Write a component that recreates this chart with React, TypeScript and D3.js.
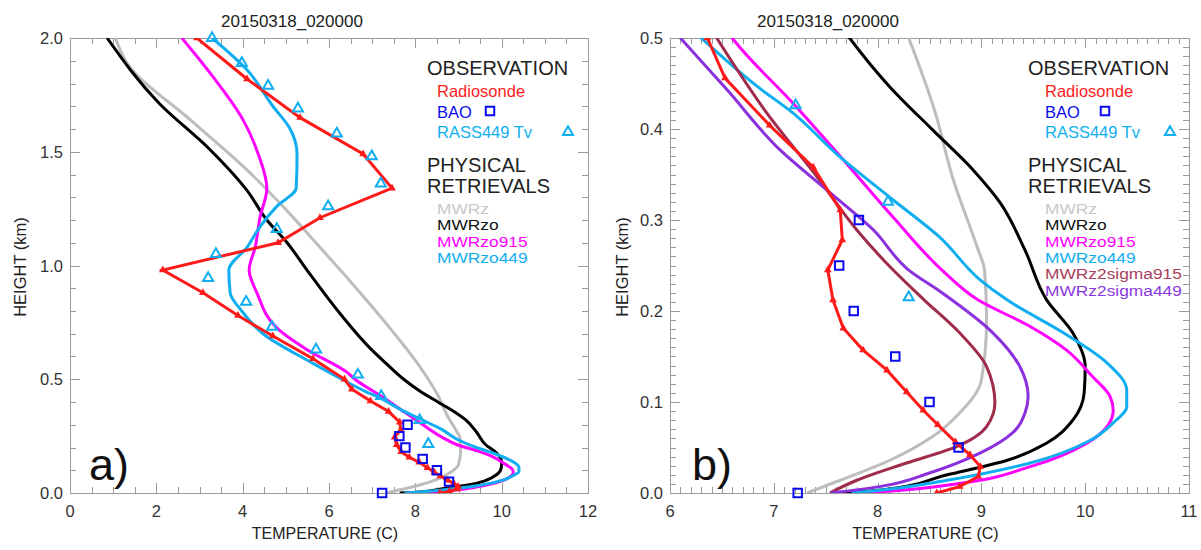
import React, { useRef, useEffect } from 'react';
import * as d3 from 'd3';

const W = 1201, H = 550;
const plotTitle = '20150318_020000';
const xTitle = 'TEMPERATURE (C)';
const yTitle = 'HEIGHT (km)';

// observations
const sondeHeight = [2.0, 1.82, 1.65, 1.49, 1.34, 1.21, 1.10, 0.98, 0.88, 0.78, 0.69, 0.59, 0.50, 0.456, 0.404, 0.358, 0.311, 0.278, 0.245, 0.212, 0.181, 0.157, 0.135, 0.111, 0.091, 0.075, 0.056, 0.042, 0.029, 0.018, 0.007, 0.0];
const sondeTemp = [2.94, 4.10, 5.33, 6.79, 7.46, 5.79, 4.82, 2.15, 3.08, 3.89, 4.70, 5.63, 6.36, 6.53, 6.96, 7.38, 7.64, 7.66, 7.52, 7.57, 7.67, 7.86, 8.09, 8.28, 8.44, 8.58, 8.75, 8.89, 8.99, 8.97, 8.79, 8.57];

const baoHeight = [0.30, 0.25, 0.20, 0.15, 0.10, 0.05, 0.0];
const baoTemp = [7.82, 7.63, 7.77, 8.17, 8.50, 8.78, 7.23];

const rassHeight = [2.0, 1.89, 1.79, 1.69, 1.58, 1.48, 1.36, 1.26, 1.16, 1.05, 0.945, 0.84, 0.73, 0.63, 0.52, 0.426, 0.32, 0.215];
const rassTemp = [3.29, 3.98, 4.59, 5.28, 6.18, 6.99, 7.20, 5.98, 4.79, 3.38, 3.20, 4.08, 4.68, 5.70, 6.67, 7.21, 8.10, 8.30];

// physical retrievals
const mwrzHeight = [2.0, 1.89, 1.63, 1.42, 1.24, 1.08, 0.94, 0.83, 0.716, 0.57, 0.50, 0.42, 0.344, 0.27, 0.245, 0.19, 0.124, 0.088, 0.062, 0.036, 0.014, 0.0];
const mwrzTemp = [1.05, 1.32, 2.85, 4.10, 5.03, 5.79, 6.45, 6.95, 7.45, 8.05, 8.30, 8.55, 8.73, 8.96, 9.03, 9.05, 9.00, 8.79, 8.53, 8.12, 7.64, 7.32];

const mwrzoHeight = [2.0, 1.71, 1.51, 1.33, 1.20, 1.10, 0.98, 0.79, 0.637, 0.57, 0.50, 0.446, 0.399, 0.355, 0.319, 0.267, 0.212, 0.176, 0.139, 0.110, 0.080, 0.055, 0.036, 0.020, 0.003, 0.0];
const mwrzoTemp = [0.86, 2.08, 3.24, 4.10, 4.56, 5.03, 5.49, 6.25, 6.95, 7.32, 7.73, 8.12, 8.53, 8.92, 9.18, 9.42, 9.63, 9.88, 10.0, 9.99, 9.88, 9.63, 9.25, 8.67, 8.02, 7.64];

const mwrzo915Height = [2.0, 1.83, 1.65, 1.49, 1.34, 1.21, 1.08, 0.98, 0.88, 0.72, 0.63, 0.53, 0.50, 0.424, 0.374, 0.303, 0.245, 0.212, 0.183, 0.157, 0.128, 0.106, 0.091, 0.073, 0.055, 0.029, 0.011, 0.002, 0.0];
const mwrzo915Temp = [2.59, 3.31, 3.98, 4.36, 4.56, 4.40, 4.29, 4.15, 4.33, 4.82, 5.49, 6.42, 6.60, 7.22, 7.61, 8.15, 8.62, 8.97, 9.47, 9.82, 10.07, 10.24, 10.27, 10.21, 10.02, 9.47, 8.82, 8.1, 7.8];

const mwrzo449Height = [2.0, 1.86, 1.70, 1.60, 1.49, 1.34, 1.26, 1.17, 1.08, 0.98, 0.88, 0.80, 0.70, 0.57, 0.50, 0.446, 0.418, 0.369, 0.322, 0.281, 0.234, 0.212, 0.176, 0.143, 0.113, 0.095, 0.077, 0.058, 0.033, 0.014, 0.003, 0.0];
const mwrzo449Temp = [3.29, 4.10, 4.70, 5.10, 5.26, 5.24, 4.79, 4.40, 4.10, 3.68, 3.71, 3.98, 4.47, 5.63, 6.30, 6.85, 7.18, 7.64, 8.15, 8.60, 8.99, 9.25, 9.79, 10.21, 10.40, 10.40, 10.27, 10.05, 9.47, 8.67, 8.02, 7.75];

const sigma915Height = [0.50, 0.418, 0.347, 0.289, 0.245, 0.212, 0.176, 0.139, 0.099, 0.073, 0.051, 0.033, 0.014, 0.0];
const sigma915Temp = [6.45, 6.93, 7.42, 7.80, 8.15, 8.45, 8.79, 9.05, 9.13, 9.05, 8.76, 8.28, 7.80, 7.54];

const sigma449Height = [0.50, 0.443, 0.377, 0.333, 0.289, 0.245, 0.220, 0.176, 0.139, 0.106, 0.088, 0.066, 0.044, 0.022, 0.007, 0.0];
const sigma449Temp = [6.10, 6.55, 7.06, 7.51, 7.96, 8.30, 8.62, 9.11, 9.37, 9.45, 9.42, 9.30, 8.99, 8.50, 8.02, 7.55];

const obsNames = ['Radiosonde', 'BAO', 'RASS449 Tv'];
const retrievalNames = ['MWRz', 'MWRzo', 'MWRzo915', 'MWRzo449', 'MWRz2sigma915', 'MWRz2sigma449'];

const RED = '#ff1a1a', BLUE = '#0a0aee', SKY = '#10aef0';
const retrievalColors = ['#bdbdbd', '#000000', '#ff00ff', '#10aef0', '#a02c4c', '#8a30dc'];
const retrievalLegendColors = ['#c8c8c8', '#111111', '#ff00ff', '#10aef0', '#a8405c', '#8a3ae0'];

const zip = (h: number[], t: number[]) => h.map((v, i) => [t[i], v] as [number, number]);

const retrievals = [
  zip(mwrzHeight, mwrzTemp),
  zip(mwrzoHeight, mwrzoTemp),
  zip(mwrzo915Height, mwrzo915Temp),
  zip(mwrzo449Height, mwrzo449Temp),
  zip(sigma915Height, sigma915Temp),
  zip(sigma449Height, sigma449Temp),
];

const FONT = '"Liberation Sans", Arial, Helvetica, sans-serif';
const TOP = 38, BOTTOM = 493;

const panels = [
  { id: 'a', left: 70, right: 588, xDomain: [0, 12], yDomain: [0, 2], xMajor: 2, xMinor: 0.5, yMajor: 0.5, yMinor: 0.1,
    nLines: 4, tag: 'a)', tagX: 89, titleX: 292, yTitleX: 26, legX: 427, entX: 437, sqX: 490, triX: 568 },
  { id: 'b', left: 670, right: 1189, xDomain: [6, 11], yDomain: [0, 0.5], xMajor: 1, xMinor: 0.1, yMajor: 0.1, yMinor: 0.01,
    nLines: 6, tag: 'b)', tagX: 692, titleX: 828, yTitleX: 628, legX: 1028, entX: 1045, sqX: 1105, triX: 1170 },
];

const steps = (lo: number, hi: number, step: number) =>
  d3.range(Math.round(lo / step), Math.round(hi / step) + 1).map(i => +(i * step).toFixed(4));

const App = () => {
  const svgRef = useRef<SVGSVGElement>(null);

  useEffect(() => {
    const svg = d3.select(svgRef.current);
    svg.selectAll('*').remove();

    panels.forEach(p => {
      const x = d3.scaleLinear().domain(p.xDomain).range([p.left, p.right]);
      const y = d3.scaleLinear().domain(p.yDomain).range([BOTTOM, TOP]);
      const g = svg.append('g');
      const clipId = 'clip-' + p.id;
      g.append('clipPath').attr('id', clipId)
        .append('rect').attr('x', p.left).attr('y', TOP)
        .attr('width', p.right - p.left).attr('height', BOTTOM - TOP);

      // ticks on all four sides, pointing inward
      const tg = g.append('g').attr('stroke', '#9a9a9a').attr('stroke-width', 1);
      const xMaj = steps(p.xDomain[0], p.xDomain[1], p.xMajor);
      const yMaj = steps(p.yDomain[0], p.yDomain[1], p.yMajor);
      const isMaj = (v: number, arr: number[]) => arr.some(m => Math.abs(m - v) < 1e-6);
      steps(p.xDomain[0], p.xDomain[1], p.xMinor).forEach(v => {
        const len = isMaj(v, xMaj) ? 10 : 6;
        const px = Math.round(x(v)) + 0.5;
        tg.append('line').attr('x1', px).attr('x2', px).attr('y1', BOTTOM).attr('y2', BOTTOM - len);
        tg.append('line').attr('x1', px).attr('x2', px).attr('y1', TOP).attr('y2', TOP + len);
      });
      steps(p.yDomain[0], p.yDomain[1], p.yMinor).forEach(v => {
        const len = isMaj(v, yMaj) ? 10 : 6;
        const py = Math.round(y(v)) + 0.5;
        tg.append('line').attr('y1', py).attr('y2', py).attr('x1', p.left).attr('x2', p.left + len);
        tg.append('line').attr('y1', py).attr('y2', py).attr('x1', p.right).attr('x2', p.right - len);
      });
      g.append('rect').attr('x', p.left + 0.5).attr('y', TOP + 0.5)
        .attr('width', p.right - p.left).attr('height', BOTTOM - TOP)
        .attr('fill', 'none').attr('stroke', '#9a9a9a');

      // tick labels
      const lg = g.append('g').attr('font-family', FONT).attr('font-size', 16.5).attr('fill', '#333');
      xMaj.forEach(v => {
        lg.append('text').attr('x', x(v)).attr('y', 517).attr('text-anchor', 'middle').text(d3.format('d')(v));
      });
      yMaj.forEach(v => {
        lg.append('text').attr('x', p.left - 7).attr('y', y(v) + 6).attr('text-anchor', 'end').text(v.toFixed(1));
      });

      // axis titles
      g.append('text').attr('x', (p.left + p.right) / 2 - 4).attr('y', 539).attr('text-anchor', 'middle')
        .attr('font-family', FONT).attr('font-size', 16).attr('fill', '#222').text(xTitle);
      g.append('text').attr('transform', `translate(${p.yTitleX},267) rotate(-90)`).attr('text-anchor', 'middle')
        .attr('font-family', FONT).attr('font-size', 16.5).attr('fill', '#222').text(yTitle);
      g.append('text').attr('x', p.titleX).attr('y', 27).attr('text-anchor', 'middle')
        .attr('font-family', FONT).attr('font-size', 17).attr('fill', '#222').text(plotTitle);

      // curves
      const cg = g.append('g').attr('clip-path', `url(#${clipId})`).attr('fill', 'none');
      const smooth = d3.line<[number, number]>().x(d => x(d[0])).y(d => y(d[1])).curve(d3.curveMonotoneY);
      retrievals.slice(0, p.nLines).forEach((data, i) => {
        cg.append('path').attr('d', smooth(data)).attr('stroke', retrievalColors[i]).attr('stroke-width', 3);
      });
      const straight = d3.line<[number, number]>().x(d => x(d[0])).y(d => y(d[1]));
      const sonde = zip(sondeHeight, sondeTemp);
      cg.append('path').attr('d', straight(sonde)).attr('stroke', RED).attr('stroke-width', 3);
      const inside = (d: [number, number]) => d[1] <= p.yDomain[1] + 1e-6 && d[0] >= p.xDomain[0] && d[0] <= p.xDomain[1];
      const triSmall = d3.symbol(d3.symbolTriangle, 26)();
      cg.selectAll('.sm').data(sonde.filter(inside)).join('path')
        .attr('d', triSmall).attr('fill', RED)
        .attr('transform', d => `translate(${x(d[0])},${y(d[1])})`);

      // BAO and RASS markers
      const sq = d3.symbol(d3.symbolSquare, 72)();
      const tri = d3.symbol(d3.symbolTriangle, 44)();
      g.selectAll('.bao').data(zip(baoHeight, baoTemp).filter(inside)).join('path')
        .attr('d', sq).attr('fill', 'none').attr('stroke', BLUE).attr('stroke-width', 2)
        .attr('transform', d => `translate(${x(d[0])},${y(d[1])})`);
      g.selectAll('.rass').data(zip(rassHeight, rassTemp).filter(inside)).join('path')
        .attr('d', tri).attr('fill', 'none').attr('stroke', SKY).attr('stroke-width', 2)
        .attr('transform', d => `translate(${x(d[0])},${y(d[1])})`);

      // panel tag
      g.append('text').attr('x', p.tagX).attr('y', 480).attr('font-family', FONT).attr('font-size', 45)
        .attr('fill', '#111').text(p.tag);

      // legend
      const leg = g.append('g').attr('font-family', FONT);
      leg.append('text').attr('x', p.legX).attr('y', 75).attr('font-size', 20).attr('fill', '#222').text('OBSERVATION');
      const obsColors = [RED, BLUE, SKY];
      obsNames.forEach((n, i) => {
        leg.append('text').attr('x', p.entX).attr('y', 97 + i * 20.5).attr('font-size', 16.5)
          .attr('fill', obsColors[i]).text(n);
      });
      leg.append('path').attr('d', sq).attr('transform', `translate(${p.sqX},111)`)
        .attr('fill', 'none').attr('stroke', BLUE).attr('stroke-width', 2);
      leg.append('path').attr('d', tri).attr('transform', `translate(${p.triX},132)`)
        .attr('fill', 'none').attr('stroke', SKY).attr('stroke-width', 2);
      leg.append('text').attr('x', p.legX).attr('y', 172).attr('font-size', 20).attr('fill', '#222').text('PHYSICAL');
      leg.append('text').attr('x', p.legX).attr('y', 193).attr('font-size', 20).attr('fill', '#222').text('RETRIEVALS');
      // wide, short lettering like the original legend
      retrievalNames.slice(0, p.nLines).forEach((n, i) => {
        leg.append('text').attr('transform', `translate(${p.entX},${214 + i * 16.3}) scale(1.12,1)`)
          .attr('font-size', 15.5).attr('fill', retrievalLegendColors[i]).text(n);
      });
    });
  }, []);

  return (
    <svg ref={svgRef} width={W} height={H}
      style={{ position: 'absolute', left: 0, top: 0, background: '#fff' }} />
  );
};

export default App;
